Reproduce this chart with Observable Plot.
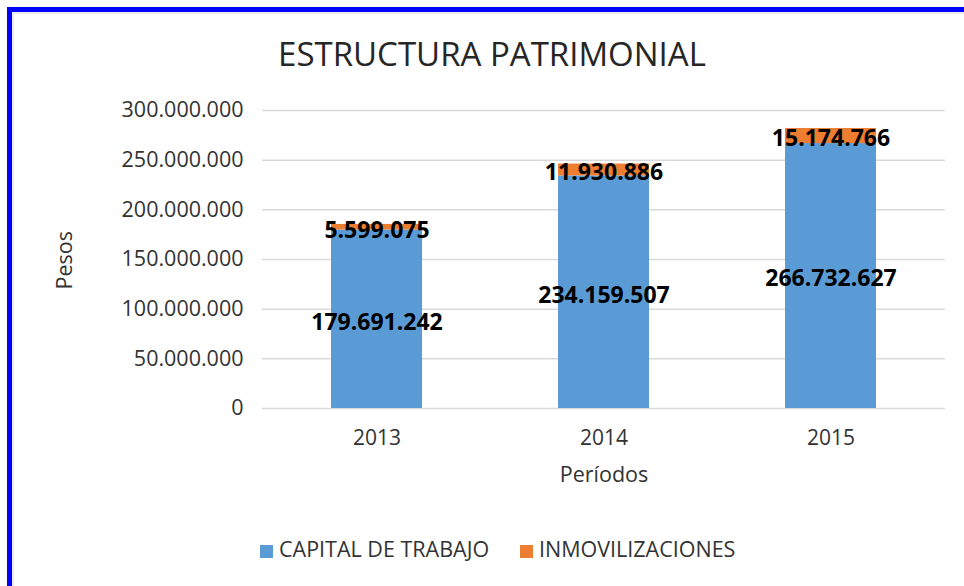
<!DOCTYPE html>
<html>
<head>
<meta charset="utf-8">
<script src="https://cdn.jsdelivr.net/npm/d3@7"></script>
<script src="https://cdn.jsdelivr.net/npm/@observablehq/plot@0.6"></script>
<style>
  html, body { margin: 0; padding: 0; background: #fff; }
  #wrap { position: relative; width: 964px; height: 586px; overflow: hidden; font-family: "Open Sans", sans-serif; }
  #frame { position: absolute; left: 7px; top: 7px; width: 1000px; height: 600px; border-top: 5px solid #0000ff; border-left: 5px solid #0000ff; }
  #frame2 { position: absolute; left: 12px; top: 12px; width: 1000px; height: 600px; border-top: 2px solid #ececec; border-left: 2px solid #ececec; }
  #title { position: absolute; left: 20px; width: 944px; top: 37px; text-align: center; font-size: 33px; line-height: 33px; color: #262626; }
  #chart { position: absolute; left: 0; top: 90px; }
  #legend { position: absolute; left: 0; top: 538px; height: 22px; font-size: 21.5px; line-height: 22px; color: #333; }
  .item { position: absolute; top: 0; white-space: nowrap; }
  .sw { display: inline-block; width: 13px; height: 13px; margin-right: 6px; vertical-align: -1px; }
</style>
</head>
<body>
<div id="wrap">
  <div id="frame"></div>
  <div id="frame2"></div>
  <div id="title">ESTRUCTURA PATRIMONIAL</div>
  <div id="chart"></div>
  <div id="legend"></div>
</div>
<script>
const years = ["2013", "2014", "2015"];
const capitalDeTrabajo = [179691242, 234159507, 266732627];
const inmovilizaciones = [5599075, 11930886, 15174766];
const seriesNames = ["CAPITAL DE TRABAJO", "INMOVILIZACIONES"];
const seriesColors = ["#5B9BD5", "#ED7D31"];
const yTicks = [0, 50000000, 100000000, 150000000, 200000000, 250000000, 300000000];

const fmt = d3.formatLocale({decimal: ",", thousands: ".", grouping: [3], currency: ["$", ""]}).format(",.0f");

const data = years.flatMap((yr, i) => [
  {year: yr, series: seriesNames[0], value: capitalDeTrabajo[i]},
  {year: yr, series: seriesNames[1], value: inmovilizaciones[i]}
]);

const chart = Plot.plot({
  width: 964,
  height: 410,
  marginTop: 20,
  marginBottom: 92,
  marginLeft: 262,
  marginRight: 19,
  style: {fontFamily: "Open Sans, sans-serif", fontSize: "21px", color: "#333", background: "transparent"},
  x: {domain: years, paddingInner: 0.6, paddingOuter: 0.3, axis: null},
  y: {domain: [0, 300000000], axis: null},
  color: {domain: seriesNames, range: seriesColors},
  marks: [
    Plot.ruleY(yTicks, {stroke: "#d9d9d9", strokeWidth: 1.5}),
    Plot.barY(data, Plot.stackY({x: "year", y: "value", fill: "series"})),
    Plot.text(data, Plot.stackY({x: "year", y: "value", z: "series", text: d => fmt(d.value), fontWeight: "bold", fontSize: 23, fill: "#000", dy: 3})),
    Plot.axisY({ticks: yTicks, tickSize: 0, tickPadding: 19, tickFormat: fmt, fontSize: 21.5, fill: "#333", label: null}),
    Plot.axisX({tickSize: 0, tickPadding: 22, fontSize: 21, fill: "#333", label: null}),
    Plot.text(["Períodos"], {frameAnchor: "bottom", dy: 73, text: d => d, fontSize: 21.5, fill: "#333"}),
    Plot.text(["Pesos"], {frameAnchor: "left", dx: -197, dy: 30, rotate: -90, text: d => d, fontSize: 21.5, fill: "#333"})
  ]
});
document.getElementById("chart").appendChild(chart);

const legend = document.getElementById("legend");
const lefts = [260, 520];
seriesNames.forEach((name, i) => {
  const it = document.createElement("div");
  it.className = "item";
  it.style.left = lefts[i] + "px";
  it.innerHTML = `<span class="sw" style="background:${seriesColors[i]}"></span>${name}`;
  legend.appendChild(it);
});
</script>
</body>
</html>
